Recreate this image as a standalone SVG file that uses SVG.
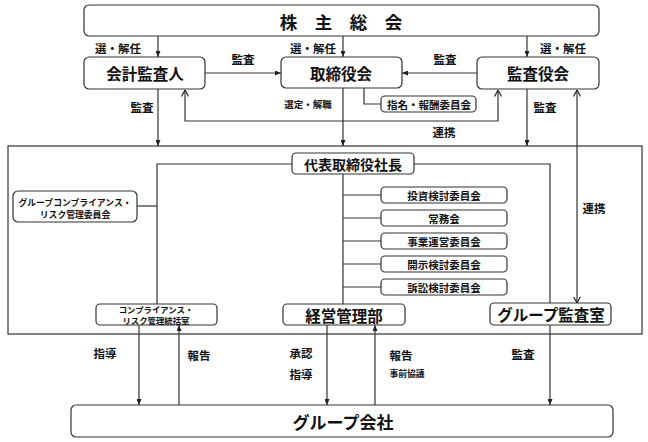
<svg xmlns="http://www.w3.org/2000/svg" width="648" height="442" viewBox="0 0 648 442">
<defs>
<style>
text{font-family:"Noto Sans CJK JP","Noto Sans CJK SC",sans-serif;font-weight:bold;fill:#111;text-anchor:middle;dominant-baseline:central}
.box{fill:#fff;stroke:#333;stroke-width:1.2}
.ln{fill:none;stroke:#333;stroke-width:1.2}
.arr{marker-end:url(#ah)}
.lk{marker-start:url(#oh);marker-end:url(#oh)}
.t16{font-size:17.5px}
.t15{font-size:15.5px}
.t14{font-size:14px}
.t10{font-size:10.5px}
.t9{font-size:8.8px}
.t8{font-size:8.4px}
.lb{font-size:11.5px}
.sm{font-size:9.5px}
</style>
<marker id="ah" viewBox="0 0 6 5" refX="6" refY="2.5" markerWidth="6" markerHeight="5" markerUnits="userSpaceOnUse" orient="auto"><path d="M0,0 L6,2.5 L0,5 z" fill="#222"/></marker>
<marker id="oh" viewBox="0 0 7 8" refX="6.5" refY="4" markerWidth="7" markerHeight="8" markerUnits="userSpaceOnUse" orient="auto-start-reverse"><path d="M0,0.5 L6.5,4 L0,7.5" fill="none" stroke="#222" stroke-width="1.2"/></marker>
</defs>
<rect x="0" y="0" width="648" height="442" fill="#fff"/>

<rect id="group-frame" x="8" y="146" width="634" height="188" fill="none" stroke="#333" stroke-width="1.2"/>

<g id="connectors">
<path class="ln arr" d="M158,36 V57"/>
<path class="ln arr" d="M343,36 V57"/>
<path class="ln arr" d="M527,36 V57"/>
<path class="ln arr" d="M205,73 H281"/>
<path class="ln arr" d="M477,73 H402"/>
<path class="ln" d="M364,88 V104 H381"/>
<path class="ln lk" d="M185,90 V121 H498 V90"/>
<path class="ln arr" d="M158,89 V146"/>
<path class="ln arr" d="M343,88 V146"/>
<path class="ln arr" d="M527,89 V146"/>
<path class="ln lk" d="M577,90 V303"/>
<path class="ln" d="M292,164 H157 V304"/>
<path class="ln" d="M137,206 H157"/>
<path class="ln" d="M414,164 H550 V303"/>
<path class="ln" d="M343,174 V304"/>
<path class="ln" d="M343,195 H381 M343,218 H381 M343,241 H381 M343,264 H381 M343,287 H381"/>
<path class="ln arr" d="M139,325 V405"/>
<path class="ln arr" d="M179,405 V325"/>
<path class="ln arr" d="M327,325 V405"/>
<path class="ln arr" d="M375,405 V325"/>
<path class="ln arr" d="M550,325 V405"/>
</g>

<g id="labels">
<text class="lb" x="118" y="48">選・解任</text>
<text class="lb" x="313" y="48">選・解任</text>
<text class="lb" x="563" y="48">選・解任</text>
<text class="lb" x="243" y="59">監査</text>
<text class="lb" x="445" y="59">監査</text>
<text class="lb" x="142" y="107">監査</text>
<text class="sm" x="308" y="103.5">選定・解職</text>
<text class="lb" x="545" y="107">監査</text>
<text class="lb" x="444" y="132">連携</text>
<text class="lb" x="594" y="208">連携</text>
<text class="lb" x="105" y="353">指導</text>
<text class="lb" x="199" y="355">報告</text>
<text class="lb" x="301" y="353">承認</text>
<text class="lb" x="301" y="374">指導</text>
<text class="lb" x="401" y="355">報告</text>
<text class="sm" x="407" y="373" style="font-size:8.8px">事前協議</text>
<text class="lb" x="523" y="354">監査</text>
</g>

<g id="shareholders">
<rect class="box" x="84" y="5" width="515" height="31" rx="5"/>
<text class="t16" x="341" y="21">株　主　総　会</text>
</g>
<g id="auditor">
<rect class="box" x="84" y="57" width="121" height="32" rx="5"/>
<text class="t15" x="145" y="73">会計監査人</text>
</g>
<g id="board">
<rect class="box" x="281" y="57" width="121" height="31" rx="5"/>
<text class="t15" x="341" y="73">取締役会</text>
</g>
<g id="audit-board">
<rect class="box" x="477" y="57" width="122" height="32" rx="5"/>
<text class="t15" x="538" y="73">監査役会</text>
</g>
<g id="nomination">
<rect class="box" x="381" y="96" width="95" height="16" rx="4"/>
<text class="t10" x="429" y="104">指名・報酬委員会</text>
</g>
<g id="president">
<rect class="box" x="292" y="153" width="122" height="21" rx="4"/>
<text class="t14" x="353" y="163.5">代表取締役社長</text>
</g>
<g id="group-compliance-committee">
<rect class="box" x="13" y="191" width="124" height="31" rx="5"/>
<text class="t9" x="75" y="202">グループコンプライアンス・</text>
<text class="t9" x="75" y="214.5">リスク管理委員会</text>
</g>
<g id="cmt-invest">
<rect class="box" x="381" y="187" width="126" height="16" rx="4"/>
<text class="t10" x="444" y="195">投資検討委員会</text>
</g>
<g id="cmt-exec">
<rect class="box" x="381" y="210" width="126" height="16" rx="4"/>
<text class="t10" x="444" y="218">常務会</text>
</g>
<g id="cmt-ops">
<rect class="box" x="381" y="233" width="126" height="16" rx="4"/>
<text class="t10" x="444" y="241">事業運営委員会</text>
</g>
<g id="cmt-disclosure">
<rect class="box" x="381" y="256" width="126" height="16" rx="4"/>
<text class="t10" x="444" y="264">開示検討委員会</text>
</g>
<g id="cmt-litigation">
<rect class="box" x="381" y="279" width="126" height="16" rx="4"/>
<text class="t10" x="444" y="287">訴訟検討委員会</text>
</g>
<g id="compliance-office">
<rect class="box" x="96" y="304" width="121" height="21" rx="4"/>
<text class="t8" x="156" y="309">コンプライアンス・</text>
<text class="t8" x="156" y="320">リスク管理統括室</text>
</g>
<g id="management-dept">
<rect class="box" x="283" y="304" width="122" height="21" rx="4"/>
<text class="t15" x="344" y="314.5">経営管理部</text>
</g>
<g id="group-audit-office">
<rect class="box" x="490" y="303" width="121" height="22" rx="4"/>
<text class="t15" x="551" y="314">グループ監査室</text>
</g>
<g id="group-companies">
<rect class="box" x="71" y="405" width="542" height="32" rx="5"/>
<text class="t16" x="343" y="421" style="font-size:17px">グループ会社</text>
</g>
</svg>
